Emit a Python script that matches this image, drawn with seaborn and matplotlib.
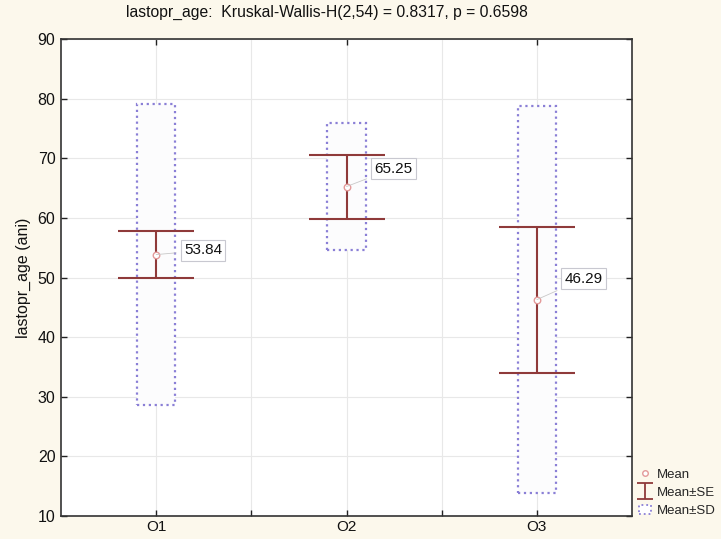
import matplotlib
matplotlib.use("Agg")
import matplotlib.pyplot as plt
import seaborn as sns
import numpy as np
from matplotlib.lines import Line2D
from matplotlib.patches import Rectangle
from matplotlib.path import Path
from matplotlib.ticker import FixedLocator

# ---- data ----
groups = ["O1", "O2", "O3"]
means = [53.84, 65.25, 46.29]
se = [3.9, 5.37, 12.25]
sd = [25.3, 10.6, 32.5]
mean_labels = ["53.84", "65.25", "46.29"]
title_text = "lastopr_age:  Kruskal-Wallis-H(2,54) = 0.8317, p = 0.6598"
ylabel_text = "lastopr_age (ani)"
legend_labels = ["Mean", "Mean\u00b1SE", "Mean\u00b1SD"]

sns.set_theme(style="white")
plt.rcParams["font.family"] = ["Liberation Sans", "DejaVu Sans"]

bg = "#fcf8ec"
se_color = "#8f3a3a"
sd_color = "#8a7fd6"
mean_color = "#e39a9a"

fig = plt.figure(figsize=(7.21, 5.39), dpi=100, facecolor=bg)
ax = fig.add_axes([61/721, 1-516/539, (632-61)/721, (516-39)/539])
ax.set_facecolor("white")

xpos = np.arange(len(groups))

# SD boxes
ax.bar(xpos, [2*s for s in sd], bottom=[m - s for m, s in zip(means, sd)],
       width=0.2, facecolor="#fcfcfd", edgecolor=sd_color, linestyle=":",
       linewidth=1.6, zorder=2)

# SE whiskers
ax.errorbar(xpos, means, yerr=se, fmt="none", ecolor=se_color, elinewidth=1.5,
            capsize=27.5, capthick=1.5, zorder=3)

# Means
sns.scatterplot(x=xpos, y=means, s=22, facecolor="white", edgecolor=mean_color,
                linewidth=1.0, zorder=4, ax=ax, legend=False)

# value labels
offsets = [(20, 3), (20, 13), (20, 15)]
for x, m, lab, off in zip(xpos, means, mean_labels, offsets):
    ax.annotate(lab, xy=(x, m), xytext=off, textcoords="offset points",
                fontsize=11, color="#111111", va="center", ha="left",
                bbox=dict(boxstyle="square,pad=0.22", facecolor="white",
                          edgecolor="#c8c8d0", linewidth=0.8),
                arrowprops=dict(arrowstyle="-", color="#c8c8c8", lw=0.6,
                                shrinkA=3, shrinkB=0),
                zorder=5)

ax.set_xlim(-0.5, 2.5)
ax.set_ylim(10, 90)
ax.set_yticks(np.arange(10, 91, 10))
ax.set_xticks(xpos)
ax.set_xticklabels(groups)
ax.xaxis.set_minor_locator(FixedLocator([0.5, 1.5]))
ax.grid(True, which="major", color="#e8e8e8", linewidth=0.8, zorder=0)
ax.grid(True, which="minor", axis="x", color="#e8e8e8", linewidth=0.8, zorder=0)
ax.set_axisbelow(True)

ax.tick_params(axis="both", which="major", direction="in", length=4, width=1,
               color="#222222", labelsize=11.5, labelcolor="#111111", pad=4)
ax.tick_params(axis="x", which="major", top=True, bottom=True, pad=3,
               labelsize=11)
ax.tick_params(axis="y", which="major", left=True, right=True)
ax.tick_params(axis="x", which="minor", direction="in", bottom=True, top=False,
               length=4, width=1, color="#222222")

for sp in ax.spines.values():
    sp.set_color("#333333")
    sp.set_linewidth(1.2)

ax.set_ylabel(ylabel_text, fontsize=11.5, color="#111111", labelpad=5)
ax.set_xlabel("")

fig.text(327/721, 1-12/539, title_text, ha="center", va="center",
         fontsize=11.3, color="#111111")

# legend
i_marker = Path([(-1, 1), (1, 1), (0, 1), (0, -1), (-1, -1), (1, -1)],
                [Path.MOVETO, Path.LINETO, Path.MOVETO, Path.LINETO,
                 Path.MOVETO, Path.LINETO])
handles = [
    Line2D([], [], linestyle="none", marker="o", markersize=4,
           markerfacecolor="white", markeredgecolor=mean_color),
    Line2D([], [], linestyle="none", marker=i_marker, markersize=12,
           markeredgewidth=1.3, color=se_color),
    Rectangle((0, 0), 1, 1, facecolor="white", edgecolor=sd_color,
              linestyle=":", linewidth=1.3),
]
leg = fig.legend(handles, legend_labels, loc="upper left",
                 bbox_to_anchor=(634/721, 1-463/539), frameon=False,
                 fontsize=9.5, handlelength=0.9, handletextpad=0.4,
                 labelspacing=0.45, borderaxespad=0)

fig.savefig("out.png", dpi=100, facecolor=bg)
